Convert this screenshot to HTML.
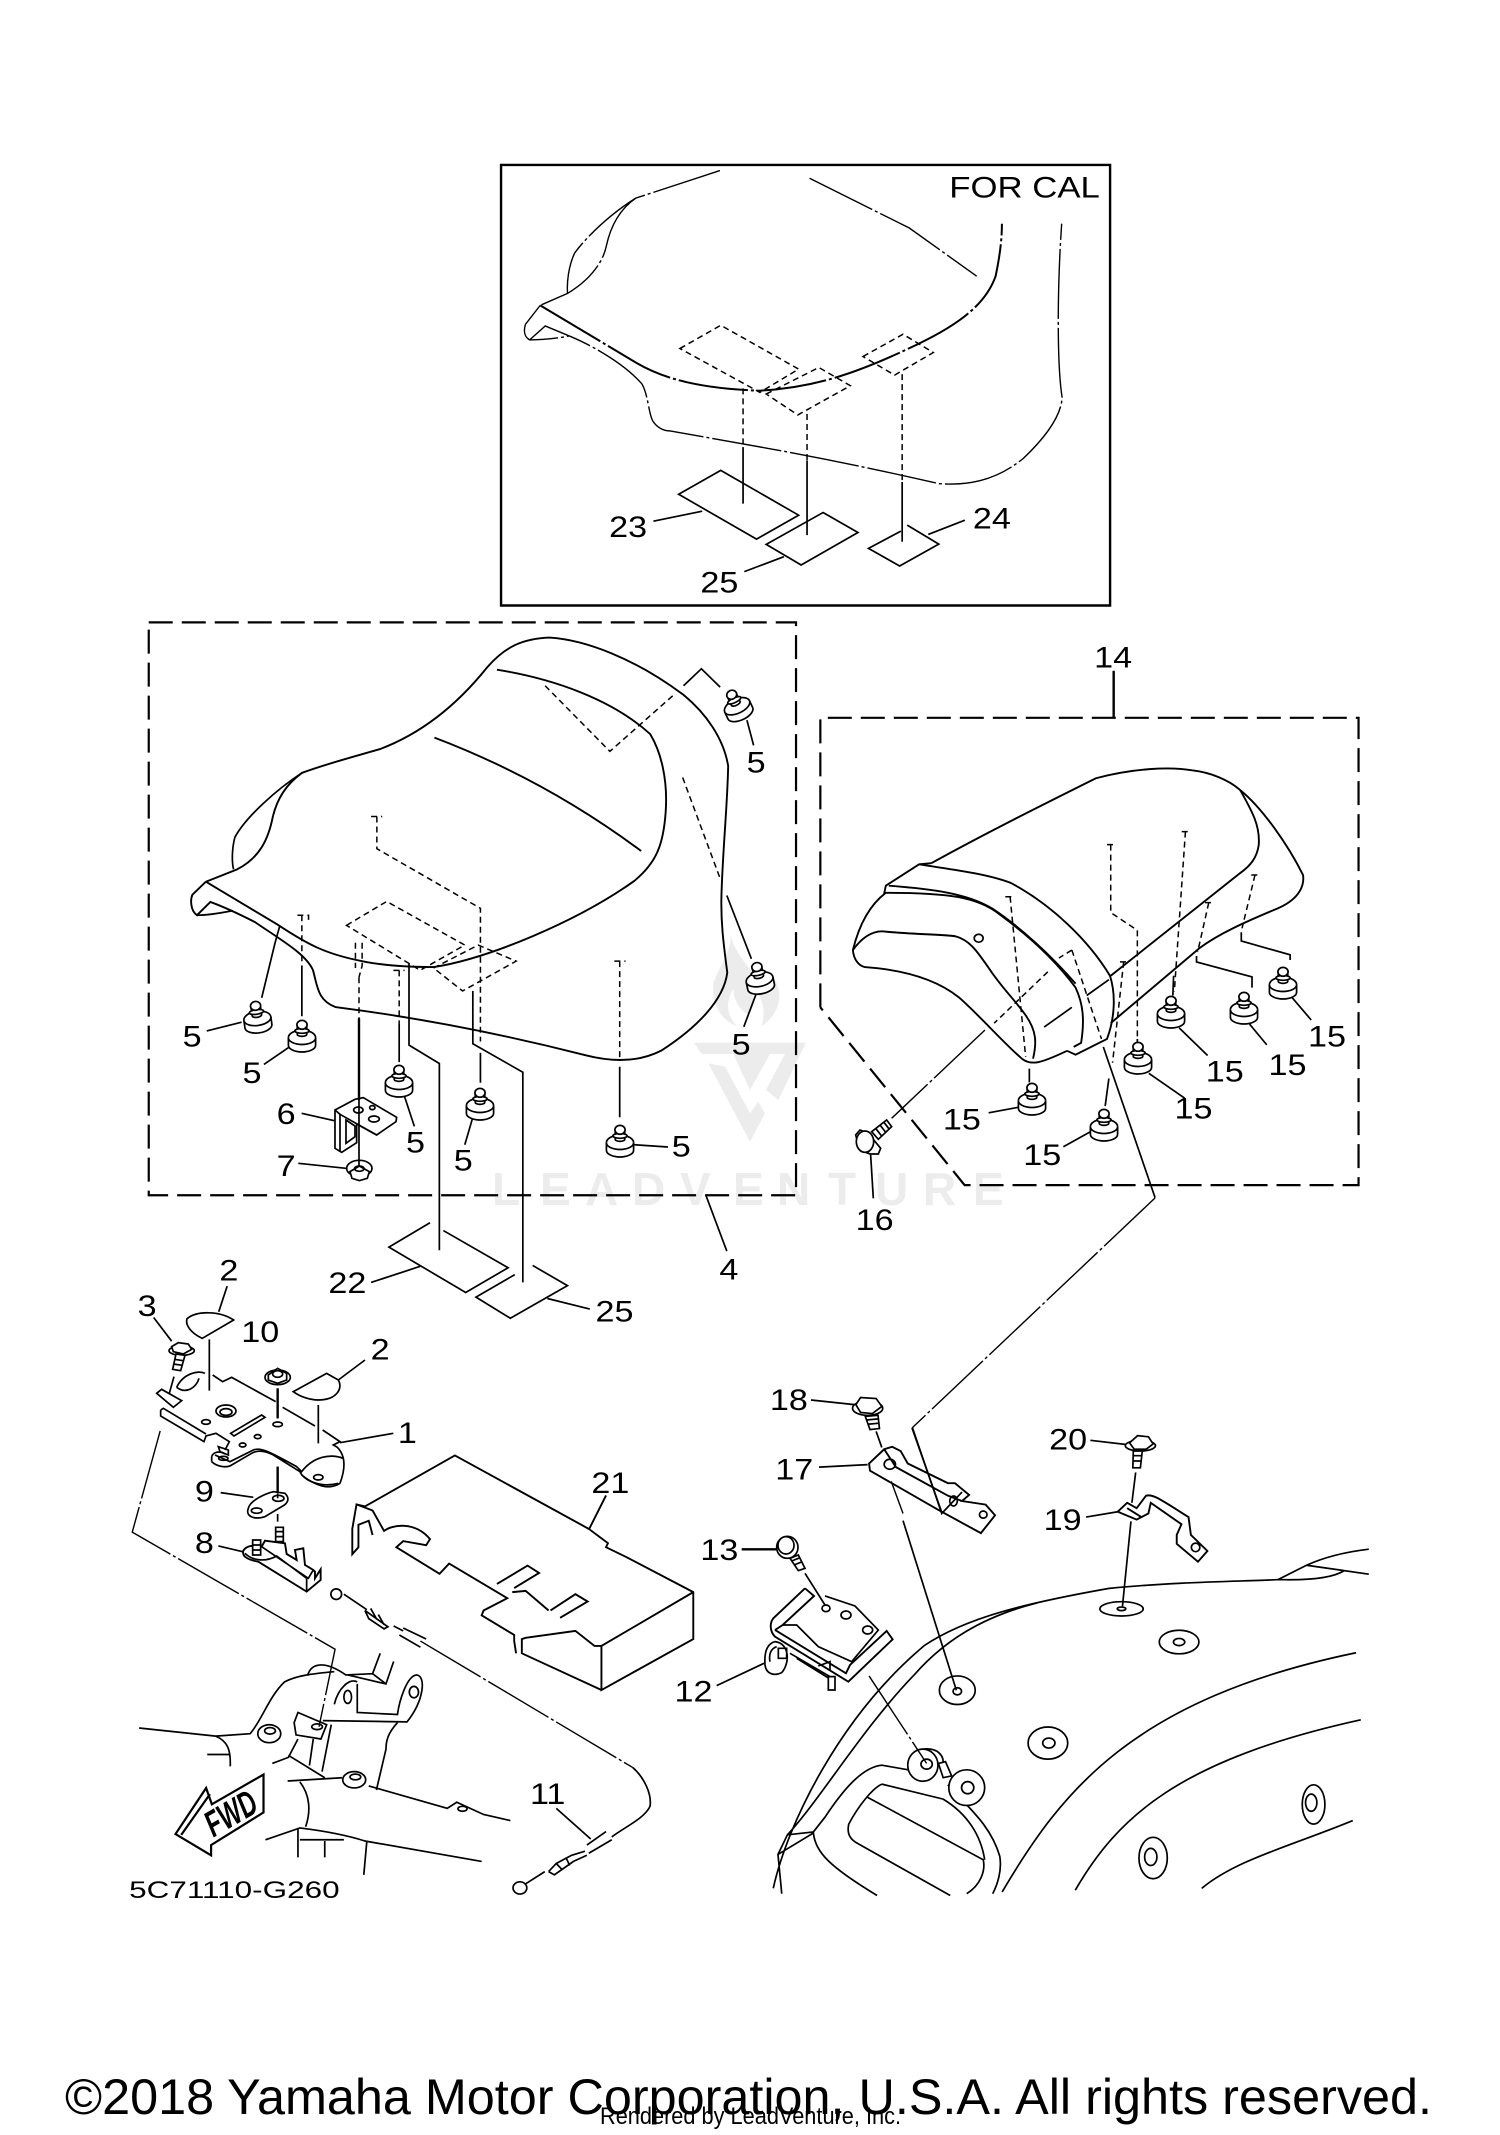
<!DOCTYPE html>
<html><head><meta charset="utf-8"><style>
html,body{margin:0;padding:0;background:#fff}
svg{display:block;filter:blur(.35px)}
.d path,.d ellipse,.d line{fill:none;stroke:#000;stroke-width:1.7;vector-effect:non-scaling-stroke}
.d .w{fill:#fff}
.d .ph{stroke-dasharray:70 3 3 3;stroke-width:1.4}
.d .da{stroke-dasharray:6 4;stroke-width:1.5}
.d .bx{stroke-dasharray:24 9;stroke-width:2.2}
.d .th{stroke-width:2.4}
.d .o{stroke-width:1.9}
.n path,.n ellipse{fill:#fff;stroke:#000;stroke-width:5}
.t text{font-family:"Liberation Sans",sans-serif;font-size:22px;text-anchor:middle;fill:#000}
</style></head><body>
<svg xmlns="http://www.w3.org/2000/svg" width="1500" height="2135" viewBox="0 0 1500 2135">
<defs>
<g id="nut" class="n" transform="scale(.34)">
<path d="M-40 8V30A40 20 0 0 0 40 30V8A40 22 0 0 0 -40 8Z"/>
<path d="M-40 8A40 20 0 0 0 40 8"/>
<path d="M-14 -24V-2A14 6 0 0 0 14 -2V-24Z"/>
<ellipse cx="0" cy="-12" rx="21" ry="7"/>
<ellipse cx="0" cy="-30" rx="15" ry="13"/>
</g>
</defs>

<!-- watermark -->
<g fill="#ececec" transform="translate(690 900) scale(.3333)">
<path d="M12 428H348L265 600L228 570L285 462H240L180 570L130 462H35Z"/>
<path d="M55 490L105 500L180 640L205 605L225 640L180 725Z"/>
<path d="M120 95C130 150 90 190 70 250C65 310 90 360 140 378C105 340 110 300 130 265C130 300 150 330 175 345C200 320 190 270 165 240C200 265 235 310 215 378C260 350 285 290 255 240C250 270 240 285 225 280C205 220 130 170 120 95Z"/>
</g>
<text x="492 540 585 632 680 733 777 828 875 923 973" y="1205" font-family="Liberation Sans,sans-serif" font-weight="bold" font-size="46" fill="#ececec">LEADVENTURE</text>

<!-- Z1 FOR CAL inset -->
<g class="d" transform="translate(480 150) scale(.4209 .332)">
<path class="th" d="M50 45H1497V1372H50Z"/>
<path class="ph" d="M570 62L370 145C320 185 260 250 225 310C210 350 206 400 208 432"/>
<path class="ph" d="M370 145C330 180 310 230 300 290C290 350 250 400 208 432L143 468"/>
<path class="ph" d="M143 468L108 525C102 550 108 565 118 572C150 572 180 568 212 560M118 572L155 530L212 560C260 585 340 640 385 705C400 740 400 790 410 815C420 835 435 845 450 846C600 880 800 920 1090 1005C1170 1012 1230 990 1290 930C1340 870 1382 800 1383 745C1370 640 1372 400 1382 222"/>
<path class="ph" style="stroke-width:2" d="M143 468L370 640C450 700 550 720 665 725C800 715 900 670 1040 585C1130 530 1200 470 1225 380C1235 320 1240 270 1240 222"/>
<path class="ph" d="M783 85L1020 235L1180 380"/>
<path class="da" d="M475 598L572 528L757 660L665 730ZM680 735L805 655L880 710L755 798ZM910 622L1005 555L1077 610L985 678Z"/>
<path class="da" d="M625 718V895M777 795V935M1003 675V1000"/>
<path d="M625 895V1065M777 935V1160M1003 1000V1180"/>
<path d="M572 965L757 1100L657 1172L472 1037ZM815 1092L898 1152L763 1250L680 1188ZM1015 1130L1090 1187L997 1253L923 1200L1000 1148"/>
<path d="M412 1118L528 1088M628 1270L722 1225M1065 1158L1152 1115"/>
</g>

<!-- Z2 main seat -->
<g class="d" transform="translate(130 610) scale(.4464 .459)">
<path class="bx" d="M42 27H1492V1275H42Z"/>
<path class="o" d="M170 592L240 565C290 540 310 500 320 450C330 410 350 380 385 355C440 335 500 320 560 303C650 270 730 210 800 125C840 80 880 62 940 60C1020 65 1130 105 1240 185C1290 225 1330 280 1340 340C1338 430 1328 520 1325 620C1323 680 1330 730 1338 790C1330 850 1270 910 1190 960C1140 985 1080 985 1020 970C900 940 700 895 460 865C420 850 420 820 410 785C395 750 340 720 280 680C240 660 205 645 180 636L150 665C135 655 135 630 140 620L170 592"/>
<path d="M150 665C175 665 205 660 230 655M385 355C330 390 260 450 235 495C228 520 228 550 232 565"/>
<path class="o" d="M170 592L330 685C400 730 440 750 520 765C570 775 620 778 680 778C800 760 1000 680 1130 590C1180 550 1195 510 1200 440C1205 370 1190 310 1165 270C1080 195 950 150 822 130"/>
<path class="o" d="M682 278C850 340 1000 420 1145 525"/>
<path class="da" d="M930 165L1075 308L1218 185M1238 365L1322 585M553 450V520L785 650V940M1097 765V980M603 785V900M385 665V775M513 800V890M505 725V780M520 725V775L513 800M375 665H400V675M540 450H565M1085 765H1110M590 785H615"/>
<path class="da" d="M485 687L575 635L750 730L650 785ZM680 780L780 730L865 765L745 830Z"/>
<path d="M335 690L325 725L295 845M1240 165L1280 128L1322 168M1337 622L1392 760M385 775V885M603 900V985M785 965V1030M1097 995V1105"/>
<path d="M625 770V948L693 988V1395M768 830V945L880 1007V1465"/>
<path d="M172 917L250 898M300 990L360 950M1382 240L1397 295M1402 838L1375 908M615 1060L637 1125M768 1105L750 1165M1130 1165L1205 1170M1290 1275L1337 1397M540 1465L650 1430M935 1500L1030 1523"/>
<path d="M672 1335L580 1388L752 1487L847 1433L702 1352M862 1448L775 1497L852 1543L980 1472L902 1428"/>
</g>

<!-- bracket 6 / nut 7 -->
<g class="d" transform="translate(240 1000) scale(.3333)">
<path d="M185 340L283 362M175 490L318 505"/>
<path class="w" d="M285 330L345 298L370 293L470 352L468 365L410 405L350 372V428L305 457L285 445Z"/>
<path d="M300 343L410 405M300 343V455M318 360L345 378V410L318 430ZM285 330L300 343"/>
<ellipse cx="355" cy="330" rx="14" ry="9"/><ellipse cx="397" cy="323" rx="8" ry="6"/><ellipse cx="402" cy="357" rx="16" ry="9"/>
<ellipse class="w" cx="358" cy="505" rx="38" ry="24"/>
<path class="w" d="M330 515L358 498L388 515L382 535L358 542L336 535Z"/>
<ellipse cx="358" cy="506" rx="14" ry="8"/>
<path d="M357 55V500"/><path class="th" d="M357 55V300"/>
</g>

<!-- Z3 rear seat -->
<g class="d" transform="translate(800 640) scale(.3699 .395)">
<path class="bx" d="M55 930V197H1510V1380H445L55 930"/>
<path class="th" d="M848 78V197"/>
<path class="o" d="M355 565C500 490 650 420 800 350C900 325 1000 320 1060 330C1110 335 1160 355 1190 380C1250 425 1320 520 1360 595C1365 630 1340 660 1290 680C1200 715 1130 745 1080 780L840 970"/>
<path class="o" d="M1190 380C1220 430 1245 470 1240 520C1235 550 1220 570 1190 590L840 850"/>
<path class="o" d="M355 565L322 568L232 622L228 640C400 640 480 650 540 695C620 750 690 810 745 880C765 920 770 960 760 1020L740 1030M240 622C350 630 450 640 520 680C600 730 680 800 745 870M322 568C400 580 500 590 570 615C680 670 780 760 838 850C855 900 850 960 830 1010L745 1050L722 1040"/>
<path class="o" d="M232 640C190 670 160 720 143 785C145 810 160 825 175 828C280 835 370 860 430 905C490 955 550 1020 600 1060C625 1078 650 1072 722 1040M143 785C170 750 200 735 230 738C300 745 380 745 420 750C460 760 480 790 510 830C545 880 580 910 610 950C640 990 640 1020 630 1060"/>
<ellipse cx="483" cy="755" rx="12" ry="10"/>
<path class="da" d="M568 650L610 1055M840 518V690L912 735V1010M1042 485L1012 890M1230 595L1195 730M1105 665L1075 790M875 815L845 1070M735 785L700 805M735 785L815 1010M555 650H580M830 518H852M1032 485H1055M1220 595H1245M1095 665H1115M865 815H885"/>
<path d="M1193 740V762L1325 797V810M1072 800V815L1222 853V880M835 1110L825 1180M912 1010V1020M1010 850L1008 900M620 1085V1120"/>
<path class="da" d="M670 840L525 970"/>
<path d="M660 980L735 930M775 900L835 860"/>
<path d="M510 1197L590 1183M712 1283L785 1245M943 1097L1040 1160M1025 982L1102 1052M1215 972L1262 1025M1330 905L1382 962"/>
<path d="M820 1030L960 1412"/>
</g>

<!-- page-level connector and bolt 16 -->
<g class="d">
<path class="ph" d="M1155 1198L912 1428"/>
<path d="M912 1428L942 1513"/>
</g>
<g class="d" transform="translate(690 900) scale(.3333)">
<path class="ph" d="M885 390L605 655"/>
<path d="M542 765L550 895"/>
<path class="w" d="M545 695L590 660L605 680L565 718Z"/>
<path d="M557 685L575 708M570 675L588 698M582 667L598 688"/>
<path class="w" d="M497 705L510 690L535 700L572 745L565 762L540 762L510 750Z"/>
<ellipse class="w" cx="525" cy="725" rx="26" ry="32"/>
</g>

<!-- Z4 left lower -->
<g class="d" transform="translate(120 1280) scale(.3827 .408)">
<path d="M297 98L215 143C185 130 170 110 175 95C200 75 260 75 297 98ZM280 15L258 78M88 92L135 150"/>
<path class="ph" d="M105 370L32 618L562 905L520 1095"/>
<ellipse cx="565" cy="770" rx="14" ry="13"/>
<path d="M585 770L645 808M640 810L700 850L690 855L650 830L640 810M655 805L670 830M675 820L690 845M715 848L740 860M740 853L800 880M730 870L785 900"/>
<path class="ph" d="M785 885L1340 1195"/>
<path d="M1340 1195C1370 1220 1390 1260 1385 1290C1370 1320 1320 1340 1285 1365M1270 1352L1220 1385M1285 1372L1225 1405M1120 1450L1140 1430L1180 1410L1215 1400M1120 1450L1135 1458L1185 1425L1220 1410M1140 1430L1155 1445M1165 1415L1175 1435M1110 1450L1060 1480M1140 1295L1230 1370"/>
<ellipse cx="1045" cy="1490" rx="18" ry="15"/>
<path class="o" d="M640 555L875 430L1225 610L1275 645L1270 655L1325 680L1498 765V880L1258 1005V897L1498 765M1258 897H1240L1190 860L1060 877L1050 880V915L1258 1005M640 555L618 550L607 610V672L623 655V600L650 590L660 625M618 550L660 565L690 615C710 600 770 590 810 635L800 650L740 640L722 655L835 720L860 695L1012 780L950 810L945 822L1030 870V885L1035 915M985 745L1065 700L1095 718L1030 755M1125 810L1190 770L1222 788L1150 828M1025 765L1060 762L1120 810M1270 528L1225 612"/>
<path d="M50 1098L250 1118L340 1112C370 1080 390 1020 430 985C460 970 500 965 560 960M250 1118C280 1130 290 1150 288 1192M228 1163H288M490 970C500 935 540 935 590 968L660 965L680 915M660 965L695 990L715 935M595 968L695 990M560 1040C570 1000 600 975 620 985M620 990V1060L725 1065C730 1030 750 970 775 968C800 970 795 1030 750 1083L530 1080M455 1085L465 1060L540 1090L525 1125L460 1115ZM465 1125L440 1170L398 1185M440 1165L535 1220M505 1125L495 1190M552 1090L528 1205M725 1085C700 1110 695 1130 695 1150L670 1250M438 1228L580 1220M650 1240L855 1295L880 1280L950 1310L1020 1325M470 1230C495 1260 500 1300 485 1340M380 1372L470 1343C530 1350 590 1360 640 1375L945 1425M465 1345V1415M535 1375V1415M470 1372H585M645 1375L637 1458"/>
<ellipse cx="595" cy="1022" rx="10" ry="16"/><ellipse cx="768" cy="1010" rx="12" ry="14"/><ellipse cx="390" cy="1112" rx="30" ry="22"/><ellipse cx="392" cy="1105" rx="14" ry="8"/><ellipse cx="612" cy="1225" rx="30" ry="20"/><ellipse cx="615" cy="1218" rx="14" ry="7"/><ellipse cx="515" cy="1095" rx="14" ry="7"/><ellipse cx="895" cy="1296" rx="12" ry="6"/>
<path style="stroke-width:2.2" d="M145 1358L225 1245L240 1285L375 1212V1305L238 1385V1410ZM160 1360L235 1260"/>
</g>
<text transform="translate(237 1824) rotate(-30) scale(.92 1.4)" font-family="Liberation Sans,sans-serif" font-weight="bold" font-style="italic" font-size="26" text-anchor="middle">FWD</text>

<!-- plate 1, bolt 3, nut 10, 2, 9, 8 -->
<g class="d" transform="translate(130 1330) scale(.3333)">
<path d="M238 28V182M443 175V265M565 225V340M443 410V510M443 552V575M132 140L118 190"/>
<path class="th" d="M443 175V265M443 410V490"/>
<path d="M705 90L625 150M490 185L590 130L625 150C640 175 620 210 565 210C540 210 510 200 490 185ZM630 338L790 310"/>
<ellipse class="w" cx="155" cy="62" rx="38" ry="14"/>
<path class="w" d="M125 50L145 38L175 42L185 58L160 72L130 65Z"/>
<path class="w" d="M138 72L165 76L152 122L128 118Z"/>
<path d="M133 88L160 92M130 102L157 106"/>
<path class="w" d="M80 190L95 178L155 212L130 232Z"/>
<path d="M140 172C160 130 205 120 225 130M140 172C170 195 200 170 207 145"/>
<path d="M248 135L278 155L305 142L437 215M458 232L555 288M578 300L630 335L610 345L622 352C650 380 645 420 630 460C600 480 560 470 515 435"/>
<path d="M92 240V258L222 335L228 318L258 310L298 335L285 360M92 240L100 235L228 312"/>
<path d="M245 380C250 365 270 362 285 372M245 395C260 410 290 415 305 405L365 370C385 358 410 365 430 375L510 425C520 450 570 475 625 460M255 375L300 395L370 360C390 352 410 360 500 410L515 425C550 380 600 370 640 385M245 380V395"/>
<path d="M265 350L295 360V375L270 365Z"/>
<ellipse cx="565" cy="442" rx="14" ry="8"/><ellipse cx="280" cy="385" rx="14" ry="6"/>
<ellipse cx="288" cy="243" rx="30" ry="18"/><ellipse cx="288" cy="246" rx="18" ry="10"/>
<path d="M302 310L395 255L405 262L312 318Z"/>
<ellipse cx="228" cy="276" rx="13" ry="7"/><ellipse cx="383" cy="320" rx="10" ry="6"/><ellipse cx="338" cy="345" rx="10" ry="6"/><ellipse cx="443" cy="283" rx="14" ry="7"/>
<ellipse class="w" cx="443" cy="142" rx="38" ry="22"/>
<path class="w" d="M415 135L443 115L470 130L470 150L443 160L415 150Z"/>
<ellipse cx="443" cy="132" rx="15" ry="10"/>
<path d="M370 502L272 488"/>
<path class="w" d="M355 535C360 510 410 490 430 485L465 490C480 505 475 520 455 530L405 560C375 570 345 560 355 535Z"/>
<ellipse cx="380" cy="542" rx="16" ry="8"/><ellipse cx="445" cy="505" rx="17" ry="9"/>
<path d="M443 490V505"/>
<path d="M265 648L338 665"/>
<path style="stroke-width:1.9" d="M340 662C350 645 375 645 395 650L405 632L465 640L470 672L500 690L495 660L520 655L525 705L550 720L555 725V745L572 718V750L530 785L385 695C355 690 335 680 340 662Z"/>
<path d="M345 670C370 695 410 695 440 678L530 745V785M395 650L535 745L550 720"/>
<path class="w" d="M368 630H392V675H368ZM437 592H460V635H437Z"/>
<path d="M368 645H392M368 660H392M437 605H460M437 620H460"/>
</g>

<!-- Z5 right lower -->
<g class="d" transform="translate(660 1360) scale(.4719 .357)">
<path d="M320 112L412 125M458 200L470 245M337 300L440 293"/>
<ellipse class="w" cx="440" cy="135" rx="32" ry="20"/>
<path class="w" d="M415 125L425 105L458 108L470 130L450 150L425 147Z"/>
<path class="w" d="M435 158L462 155L465 192L445 195Z"/>
<path d="M437 168L463 165M440 180L464 177"/>
<path class="o" d="M443 290L475 250L492 243L510 255L525 290L610 345L625 345L655 378L640 395L690 405L710 435L680 485L590 420L445 310ZM475 250L500 300L610 380L640 395M510 255L525 290"/>
<ellipse cx="487" cy="292" rx="12" ry="14"/><ellipse cx="685" cy="433" rx="8" ry="10"/><ellipse cx="622" cy="395" rx="8" ry="14"/>
<path class="ph" d="M490 340L515 430"/><path d="M515 450L628 925"/>
<path d="M535 190L597 430L640 370"/>
<ellipse cx="630" cy="925" rx="38" ry="40"/><ellipse cx="630" cy="928" rx="9" ry="10"/>
<path d="M912 225L990 237M1008 315L1000 400M903 440L970 425M998 452L980 690"/>
<ellipse class="w" cx="1018" cy="240" rx="32" ry="15"/>
<path class="w" d="M995 232L1012 212L1035 215L1045 235L1030 250L1005 250Z"/>
<path class="w" d="M1003 255L1022 255L1018 302H1002Z"/>
<path d="M1002 268H1021M1002 283H1020"/>
<path class="o" d="M970 425L990 400L1010 415L1030 380C1045 375 1060 390 1120 440L1125 490L1160 535L1140 565L1095 515V490L1105 460L1040 400L1035 430L1010 447ZM990 415L1020 440"/>
<ellipse cx="1135" cy="525" rx="9" ry="12"/>
<ellipse cx="978" cy="697" rx="46" ry="20"/><ellipse cx="978" cy="697" rx="9" ry="5"/>
<path d="M240 1480C270 1300 380 1000 560 800C650 720 780 680 950 640C1100 620 1250 620 1310 615L1370 575C1420 545 1470 535 1502 530M1310 615C1360 617 1420 615 1450 590L1502 600M1370 575L1450 590M800 680C680 720 600 790 540 880C430 1030 340 1230 270 1330L250 1385L258 1495M270 1330L325 1322L350 1280C390 1200 430 1140 470 1135L535 1150M610 1190C650 1250 700 1300 720 1390C725 1430 715 1470 705 1495M250 1385L325 1325C330 1380 360 1420 460 1500M470 1188C450 1200 420 1250 400 1300C395 1330 405 1345 420 1355L615 1500M440 1225L685 1400C690 1430 680 1470 650 1495M470 1188L600 1230C650 1270 680 1330 688 1400M725 1490C850 1210 1000 950 1475 820M880 1485C970 1280 1100 1120 1485 1008M1148 1480C1220 1400 1340 1360 1468 1290"/>
<ellipse cx="1100" cy="790" rx="42" ry="33"/><ellipse cx="1100" cy="790" rx="12" ry="10"/>
<ellipse cx="822" cy="1073" rx="42" ry="45"/><ellipse cx="824" cy="1073" rx="13" ry="14"/>
<ellipse class="w" cx="650" cy="1198" rx="38" ry="50"/><ellipse cx="652" cy="1198" rx="13" ry="17"/>
<path class="w" d="M590 1130L605 1125L618 1165L600 1170Z"/>
<ellipse class="w" cx="557" cy="1135" rx="32" ry="45"/><ellipse cx="565" cy="1132" rx="12" ry="14"/>
<path d="M557 1090C590 1085 600 1110 600 1125"/>
<path class="ph" d="M443 885L565 1130"/>
<ellipse cx="1385" cy="1245" rx="24" ry="55"/><ellipse cx="1380" cy="1240" rx="12" ry="24"/>
<ellipse cx="1045" cy="1395" rx="30" ry="58"/><ellipse cx="1040" cy="1392" rx="13" ry="24"/>
</g>

<!-- bracket 12 / bolt 13 -->
<g class="d" transform="translate(740 1530) scale(.3333)">
<path class="th" d="M5 58H110"/>
<path d="M195 130L255 225M-70 467L72 400"/>
<ellipse class="w" cx="142" cy="52" rx="32" ry="33"/><ellipse class="w" cx="138" cy="46" rx="24" ry="26"/>
<path class="w" d="M150 85L175 75L195 115L175 122Z"/>
<path d="M155 93L180 83M162 105L187 95"/>
<path class="w" style="stroke-width:1.9" d="M195 175L100 265C88 280 90 305 105 320L325 455L458 328L440 303L330 405L318 430L105 300"/>
<path class="o" d="M195 175L222 198L128 285L105 300"/>
<path d="M255 198L345 228L415 300L335 395L235 350L170 285L128 285"/>
<ellipse cx="258" cy="235" rx="12" ry="10"/><ellipse cx="318" cy="255" rx="15" ry="12"/><ellipse cx="383" cy="300" rx="15" ry="12"/>
<path class="w" d="M75 405C72 360 85 340 105 335C150 340 150 400 125 428C100 440 78 430 75 405Z"/>
<path d="M90 395C85 370 95 355 110 350M115 355H140V385H115Z"/>
<path d="M170 385L275 450M150 370L270 440M235 408L270 395V420"/>
<path class="w" d="M265 440H285V480H265Z"/>
</g>

<!-- nuts -->
<use href="#nut" transform="translate(302 1035)"/>
<use href="#nut" transform="translate(257 1016) rotate(-8)"/>
<use href="#nut" transform="translate(399 1080)"/>
<use href="#nut" transform="translate(480 1103)"/>
<use href="#nut" transform="translate(620 1140)"/>
<use href="#nut" transform="translate(736 704) rotate(-25)"/>
<use href="#nut" transform="translate(759 977) rotate(-12)"/>
<use href="#nut" transform="translate(1032 1098)"/>
<use href="#nut" transform="translate(1104 1124)"/>
<use href="#nut" transform="translate(1138 1057)"/>
<use href="#nut" transform="translate(1171 1011)"/>
<use href="#nut" transform="translate(1244 1007)"/>
<use href="#nut" transform="translate(1283 982)"/>

<!-- labels -->
<g class="t" transform="scale(1.3624)">
<text transform="translate(752 145) scale(1.16 1)">FOR CAL</text>
<text transform="translate(461 394) scale(1.14 1)">23</text>
<text transform="translate(528 435) scale(1.14 1)">25</text>
<text transform="translate(728 388) scale(1.14 1)">24</text>
<text transform="translate(817 490) scale(1.14 1)">14</text>
<text transform="translate(535 939) scale(1.14 1)">4</text>
<text transform="translate(555 567) scale(1.14 1)">5</text>
<text transform="translate(544 774) scale(1.14 1)">5</text>
<text transform="translate(141 768) scale(1.14 1)">5</text>
<text transform="translate(185 795) scale(1.14 1)">5</text>
<text transform="translate(305 846) scale(1.14 1)">5</text>
<text transform="translate(340 859) scale(1.14 1)">5</text>
<text transform="translate(500 849) scale(1.14 1)">5</text>
<text transform="translate(210 825) scale(1.14 1)">6</text>
<text transform="translate(210 863) scale(1.14 1)">7</text>
<text transform="translate(255 949) scale(1.14 1)">22</text>
<text transform="translate(451 970) scale(1.14 1)">25</text>
<text transform="translate(168 940) scale(1.14 1)">2</text>
<text transform="translate(108 966) scale(1.14 1)">3</text>
<text transform="translate(191 985) scale(1.14 1)">10</text>
<text transform="translate(279 998) scale(1.14 1)">2</text>
<text transform="translate(299 1059) scale(1.14 1)">1</text>
<text transform="translate(150 1102) scale(1.14 1)">9</text>
<text transform="translate(150 1140) scale(1.14 1)">8</text>
<text transform="translate(448 1096) scale(1.14 1)">21</text>
<text transform="translate(402 1324) scale(1.14 1)">11</text>
<text transform="translate(172 1393) scale(1.05 .8)">5C71110-G260</text>
<text transform="translate(509 1249) scale(1.14 1)">12</text>
<text transform="translate(528 1145) scale(1.14 1)">13</text>
<text transform="translate(583 1086) scale(1.14 1)">17</text>
<text transform="translate(579 1035) scale(1.14 1)">18</text>
<text transform="translate(780 1123) scale(1.14 1)">19</text>
<text transform="translate(784 1064) scale(1.14 1)">20</text>
<text transform="translate(974 768) scale(1.14 1)">15</text>
<text transform="translate(945 789) scale(1.14 1)">15</text>
<text transform="translate(899 794) scale(1.14 1)">15</text>
<text transform="translate(876 821) scale(1.14 1)">15</text>
<text transform="translate(706 829) scale(1.14 1)">15</text>
<text transform="translate(765 855) scale(1.14 1)">15</text>
<text transform="translate(642 903) scale(1.14 1)">16</text>
</g>

<text x="65" y="2114" font-family="Liberation Sans,sans-serif" font-size="50" textLength="1367" lengthAdjust="spacingAndGlyphs">©2018 Yamaha Motor Corporation, U.S.A. All rights reserved.</text>
<text x="600" y="2124" font-family="Liberation Sans,sans-serif" font-size="24" textLength="301" lengthAdjust="spacingAndGlyphs">Rendered by LeadVenture, Inc.</text>
</svg>
</body></html>
